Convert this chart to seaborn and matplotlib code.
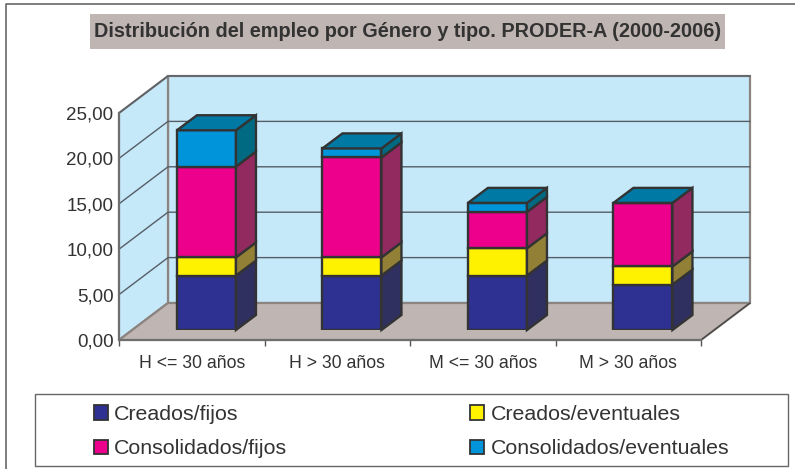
import matplotlib
matplotlib.use("Agg")
import matplotlib.pyplot as plt
import numpy as np
import seaborn as sns
from matplotlib.patches import Patch, Rectangle

categories = ["H <= 30 años", "H > 30 años", "M <= 30 años", "M > 30 años"]
creados_fijos = [6, 6, 6, 5]
creados_eventuales = [2, 2, 3, 2]
consolidados_fijos = [10, 11, 4, 7]
consolidados_eventuales = [4, 1, 1, 0]
y_ticks = [0, 5, 10, 15, 20, 25]
y_labels = ["0,00", "5,00", "10,00", "15,00", "20,00", "25,00"]

series = [
    ("Creados/fijos", creados_fijos, "#2E3092", "#303060"),
    ("Creados/eventuales", creados_eventuales, "#FFF200", "#938037"),
    ("Consolidados/fijos", consolidados_fijos, "#EC008C", "#92295F"),
    ("Consolidados/eventuales", consolidados_eventuales, "#0095DA", "#006A82"),
]
TOP_COLOR = "#007AA5"
EDGE = "#333333"
WALL = "#C6E9FA"
FLOOR = "#BFB5B2"
WALL_EDGE = "#8C8480"
GRID = "#555E66"
TEXT = "#333333"

W, H = 795, 469
SLOT = 145.5
UNIT = 9.08
BAR_WIDTH = 59 / SLOT
# depth of the box and of the bars, in category / value units
WALL_DX, WALL_DY = 49 / SLOT, 37 / UNIT
BAR_DX, BAR_DY = 20 / SLOT, 15 / UNIT

sns.set_theme(style="white")
plt.rcParams["font.family"] = ["Liberation Sans", "DejaVu Sans"]


def pixel_axes(fig, left, top, right, bottom):
    return fig.add_axes([left / W, 1 - bottom / H, (right - left) / W, (bottom - top) / H])


fig = plt.figure(figsize=(W / 100, H / 100), dpi=100, facecolor="white")

# page furniture in pixel coordinates
bg = fig.add_axes([0, 0, 1, 1])
bg.set_xlim(0, W)
bg.set_ylim(H, 0)
bg.axis("off")
bg.plot([6, 6, W], [H, 4.5, 4.5], color="#5A5A5A", lw=1.1)
bg.add_patch(Rectangle((90, 14), 635, 35, facecolor=FLOOR, edgecolor="none"))
bg.text(407.5, 31.5, "Distribución del empleo por Género y tipo. PRODER-A (2000-2006)",
        ha="center", va="center", fontsize=14.35, fontweight="bold", color=TEXT)
bg.add_patch(Rectangle((35, 394), 753, 72, facecolor="white", edgecolor="#666666", lw=1.0))

# front plane of the box: carries the axes, ticks and labels
ax = pixel_axes(fig, 119, 113, 701, 340)
ax.set_xlim(-0.5, 3.5)
ax.set_ylim(0, 25)
ax.patch.set_alpha(0)
x0, x1 = -0.5, 3.5
ax.fill([x0 + WALL_DX, x1 + WALL_DX, x1 + WALL_DX, x0 + WALL_DX],
        [WALL_DY, WALL_DY, 25 + WALL_DY, 25 + WALL_DY],
        facecolor=WALL, edgecolor=WALL_EDGE, lw=1.6, clip_on=False, zorder=1)
ax.fill([x0, x0 + WALL_DX, x0 + WALL_DX, x0],
        [0, WALL_DY, 25 + WALL_DY, 25],
        facecolor=WALL, edgecolor=WALL_EDGE, lw=1.6, clip_on=False, zorder=1)
ax.fill([x0, x1, x1 + WALL_DX, x0 + WALL_DX],
        [0, 0, WALL_DY, WALL_DY],
        facecolor=FLOOR, edgecolor=WALL_EDGE, lw=1.6, clip_on=False, zorder=1.2)
ax.plot([x1, x1 + WALL_DX], [0, WALL_DY], color="#444444", lw=0.9, clip_on=False, zorder=1.3)
for tick in y_ticks[1:]:
    ax.plot([x0, x0 + WALL_DX, x1 + WALL_DX], [tick, tick + WALL_DY, tick + WALL_DY],
            color=GRID, lw=1.0, clip_on=False, zorder=1.1)

for name, spine in ax.spines.items():
    spine.set_visible(name in ("left", "bottom"))
    spine.set_color("#6E6E6E")
    spine.set_linewidth(1.5)
    spine.set_zorder(1.4)
ax.set_yticks(y_ticks, y_labels)
ax.set_xticks(range(len(categories)), categories)
ax.set_xticks(np.arange(x0, x1 + 1), minor=True)
ax.tick_params(axis="x", which="major", length=0, pad=10.5, labelsize=12.7, labelcolor=TEXT)
ax.tick_params(axis="x", which="minor", length=4, width=1.0, color="#555555", bottom=True)
ax.tick_params(axis="y", length=0, pad=4, labelsize=13.5, labelcolor=TEXT)

# bars stand further back in the box, so they get their own plane
ax_bars = pixel_axes(fig, 133.7, 103, 715.7, 330)
bottom = np.zeros(len(categories))
for label, values, face, side in series:
    values = np.array(values, dtype=float)
    sns.barplot(x=categories, y=values, bottom=bottom, color=face, saturation=1,
                width=BAR_WIDTH, edgecolor=EDGE, linewidth=1.7, ax=ax_bars, zorder=3)
    for i, v in enumerate(values):
        if v == 0:
            continue
        right = i + BAR_WIDTH / 2
        ax_bars.fill([right, right + BAR_DX, right + BAR_DX, right],
                     [bottom[i], bottom[i] + BAR_DY, bottom[i] + v + BAR_DY, bottom[i] + v],
                     facecolor=side, edgecolor=EDGE, lw=1.7, clip_on=False, zorder=3)
    bottom = bottom + values
for i, total in enumerate(bottom):
    left, right = i - BAR_WIDTH / 2, i + BAR_WIDTH / 2
    ax_bars.fill([left, right, right + BAR_DX, left + BAR_DX],
                 [total, total, total + BAR_DY, total + BAR_DY],
                 facecolor=TOP_COLOR, edgecolor=EDGE, lw=1.7, clip_on=False, zorder=3)
ax_bars.set_xlim(-0.5, 3.5)
ax_bars.set_ylim(0, 25)
ax_bars.axis("off")

handles = [Patch(facecolor=face, edgecolor=EDGE, lw=1.3, label=label) for label, _, face, _ in series]
order = [0, 2, 1, 3]
fig.legend([handles[i] for i in order], [handles[i].get_label() for i in order],
           ncol=2, loc="upper left", bbox_to_anchor=(93.5 / W, 1 - 405 / H), frameon=False,
           fontsize=15.4, labelcolor=TEXT, borderpad=0, borderaxespad=0,
           handlelength=0.66, handleheight=0.66, handletextpad=0.3,
           labelspacing=0.72, columnspacing=8.55)

fig.savefig("out.png", dpi=100)
